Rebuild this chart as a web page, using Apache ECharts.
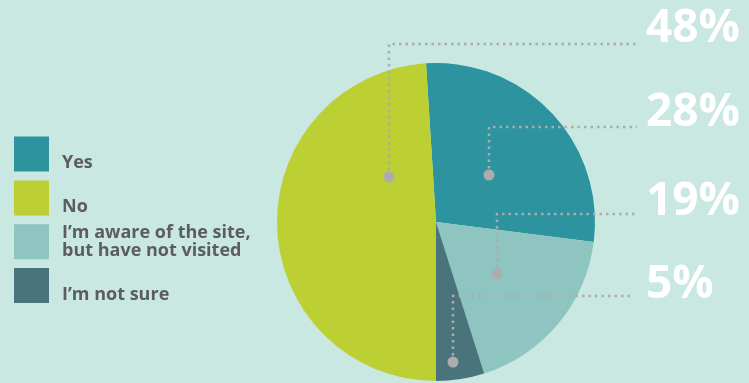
<!DOCTYPE html>
<html>
<head>
<meta charset="utf-8">
<script src="https://cdn.jsdelivr.net/npm/echarts@6/dist/echarts.min.js"></script>
<style>
html,body{margin:0;padding:0;background:#c9e8e2;}
#chart{width:749px;height:383px;}
</style>
</head>
<body>
<div id="chart"></div>
<script>
// Data (clockwise order from top)
const categories = ['Yes', 'I’m aware of the site,\nbut have not visited', 'I’m not sure', 'No'];
const values = [28, 18.1, 4.9, 49];
const percentLabels = ['28%', '19%', '5%', '48%'];
const legendOrder = ['Yes', 'No', 'I’m aware of the site,\nbut have not visited', 'I’m not sure'];
const colors = ['#2d939f', '#8fc5c1', '#4a747c', '#bccf33'];

// Annotation layout (leader line geometry): dot, elbow height, label center
const leaders = [
  {dot: [489, 175], hy: 127, endX: 637, lx: 646, ly: 113},
  {dot: [497, 274], hy: 214, endX: 637, lx: 646, ly: 202},
  {dot: [453, 362], hy: 296, endX: 634, lx: 646, ly: 285},
  {dot: [389, 177], hy: 44, endX: 637, lx: 646, ly: 29}
];

const chart = echarts.init(document.getElementById('chart'));
const graphics = [];
leaders.forEach(l => {
  graphics.push({
    type: 'polyline',
    shape: {points: [[l.dot[0], l.dot[1]], [l.dot[0], l.hy], [l.endX, l.hy]]},
    style: {stroke: '#acacac', lineWidth: 2.5, lineDash: [2.5, 4], fill: null},
    z: 100
  });
  graphics.push({
    type: 'circle',
    shape: {cx: l.dot[0], cy: l.dot[1], r: 5.5},
    style: {fill: '#acacac'},
    z: 101
  });
});

const option = {
  backgroundColor: '#c9e8e2',
  animation: false,
  legend: {
    orient: 'vertical',
    left: 14,
    top: 136,
    padding: 0,
    itemWidth: 35,
    itemHeight: 35,
    itemGap: 8,
    icon: 'rect',
    data: legendOrder,
    formatter: function (name) {
      if (name.indexOf('\n') >= 0) {
        return name.split('\n').map(s => '{b|' + s + '}').join('\n');
      }
      return '{a|' + name + '}';
    },
    textStyle: {
      color: '#5d5d5d',
      fontFamily: 'Open Sans',
      fontWeight: 700,
      fontSize: 18,
      rich: {
        a: {color: '#5d5d5d', fontFamily: 'Open Sans', fontWeight: 700, fontSize: 18, lineHeight: 17, padding: [18, 0, 0, 8]},
        b: {color: '#5d5d5d', fontFamily: 'Open Sans', fontWeight: 700, fontSize: 18, lineHeight: 17.5, padding: [0, 0, 0, 8]}
      }
    }
  },
  graphic: graphics,
  series: [{
    type: 'pie',
    center: [436, 222],
    radius: 159,
    startAngle: 93.6,
    clockwise: true,
    avoidLabelOverlap: false,
    data: categories.map((c, i) => ({name: c, value: values[i], itemStyle: {color: colors[i]}})),
    label: {
      show: true,
      position: 'outside',
      formatter: p => percentLabels[p.dataIndex],
      color: '#ffffff',
      fontFamily: 'Open Sans',
      fontWeight: 700,
      fontSize: 46
    },
    labelLine: {show: false},
    labelLayout: function (params) {
      const l = leaders[params.dataIndex];
      return {x: l.lx, y: l.ly, align: 'left', verticalAlign: 'middle'};
    },
    emphasis: {disabled: true}
  }]
};
chart.setOption(option);
</script>
</body>
</html>
